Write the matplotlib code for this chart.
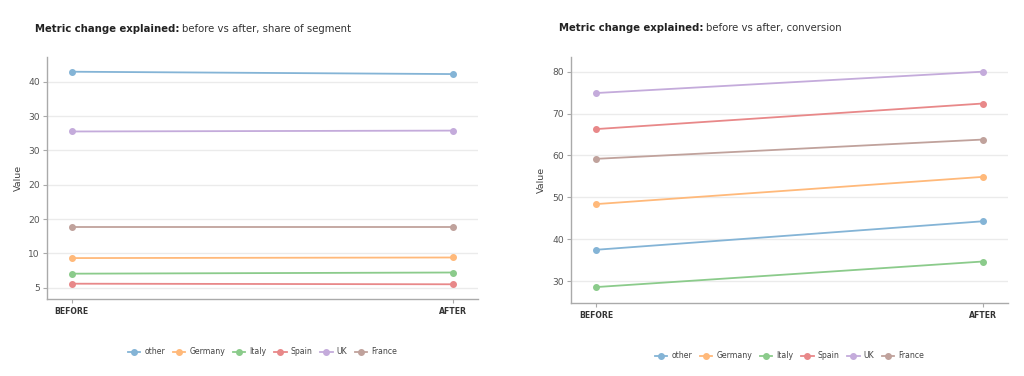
import numpy as np
import matplotlib
matplotlib.use("Agg")
import matplotlib.pyplot as plt
from matplotlib.colors import to_rgb

plt.rcParams['font.family'] = ['DejaVu Sans']

stages = ["BEFORE", "AFTER"]
segments = ["other", "Germany", "Italy", "Spain", "UK", "France"]
colors = ["#1f77b4", "#ff7f0e", "#2ca02c", "#d62728", "#9467bd", "#8c564b"]

share_before = [41.7, 10.05, 7.4, 5.7, 31.55, 15.4]
share_after = [41.3, 10.15, 7.6, 5.6, 31.7, 15.4]

conv_before = [37.5, 48.4, 28.6, 66.3, 74.9, 59.2]
conv_after = [44.3, 54.9, 34.7, 72.4, 80.0, 63.8]

W, H = 1024, 376
fig = plt.figure(figsize=(W / 100, H / 100), dpi=100)


def soften(c, a=0.55):
    r = np.array(to_rgb(c))
    return tuple(1 - a * (1 - r))


def px_axes(x0, y0, x1, y1):
    return fig.add_axes([x0 / W, 1 - y1 / H, (x1 - x0) / W, (y1 - y0) / H])


def title(x, y, bold, rest):
    t = fig.text(x / W, 1 - y / H, bold, fontsize=7.3, fontweight='bold',
                 color='#222222', va='center', ha='left')
    fig.canvas.draw()
    bb = t.get_window_extent(renderer=fig.canvas.get_renderer())
    fig.text((bb.x1 + 3) / W, 1 - y / H, rest, fontsize=7.3, color='#333333',
             va='center', ha='left')


def style(ax):
    for s in ['top', 'right']:
        ax.spines[s].set_visible(False)
    for s in ['left', 'bottom']:
        ax.spines[s].set_color('#aaaaaa')
        ax.spines[s].set_linewidth(1.0)
    ax.grid(axis='y', color='#ebebeb', linewidth=1.0)
    ax.set_axisbelow(True)
    ax.set_xticks(range(len(stages)))
    ax.set_xticklabels(stages, fontsize=5.6, fontweight='bold', color='#333333')
    ax.tick_params(axis='x', length=3, color='#aaaaaa', pad=3)
    ax.tick_params(axis='y', length=3, color='#aaaaaa', labelsize=6.6,
                   labelcolor='#555555', pad=2)
    ax.set_xlim(-0.065, 1.065)
    ax.set_ylabel("Value", fontsize=6.8, color='#444444')


def draw(ax, before, after):
    x = np.arange(len(stages))
    for name, c, b, a in zip(segments, colors, before, after):
        sc = soften(c)
        ax.plot(x, [b, a], color=sc, lw=1.3, marker='o', ms=4,
                mfc=sc, mec=sc, label=name)


def legend(ax, y):
    ax.legend(loc='center', bbox_to_anchor=(0.5, y), ncol=6, frameon=False,
              fontsize=5.6, handlelength=1.6, columnspacing=1.0,
              handletextpad=0.5, labelcolor='#444444')


# Left chart
ax1 = px_axes(47, 57, 478, 299)
draw(ax1, share_before, share_after)
style(ax1)
ax1.set_ylim(3.1, 44.2)
yt = np.linspace(5, 40, 7)
ax1.set_yticks(yt)
ax1.set_yticklabels([f"{float(f'{v:.1g}'):g}" for v in yt])
legend(ax1, -0.219)
ax1.yaxis.set_label_coords(-0.056, 0.5)

# Right chart
ax2 = px_axes(571, 57, 1008, 303)
draw(ax2, conv_before, conv_after)
style(ax2)
ax2.set_ylim(24.8, 83.5)
ax2.set_yticks(np.arange(30, 81, 10))
legend(ax2, -0.215)
ax2.yaxis.set_label_coords(-0.058, 0.5)

title(35, 29, "Metric change explained:", "before vs after, share of segment")
title(559, 28, "Metric change explained:", "before vs after, conversion")

fig.savefig("out.png", dpi=100)
